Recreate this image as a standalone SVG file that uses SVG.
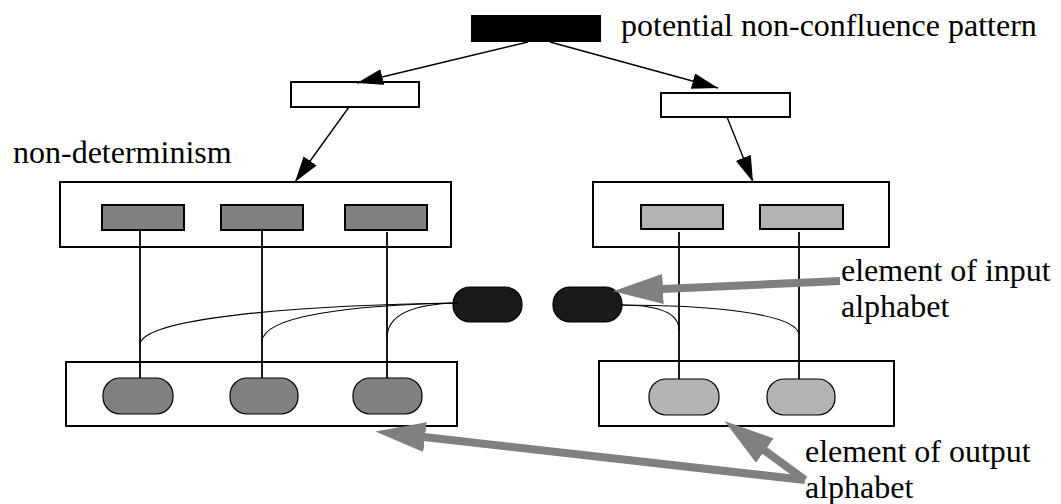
<svg xmlns="http://www.w3.org/2000/svg" width="1061" height="504" viewBox="0 0 1061 504">
  <style>
    .lbl { font-family: "Liberation Serif", "Times New Roman", serif; font-size: 32px; fill: #000; }
    .box { fill: #fff; stroke: #000; stroke-width: 2; }
    .dark { fill: #808080; stroke: #000; stroke-width: 2; }
    .light { fill: #b3b3b3; stroke: #000; stroke-width: 2; }
    .pill-dark { fill: #808080; stroke: #000; stroke-width: 1.2; }
    .pill-light { fill: #b3b3b3; stroke: #000; stroke-width: 1.2; }
    .pill-black { fill: #1a1a1a; stroke: #000; stroke-width: 1.2; }
    .edge { fill: none; stroke: #000; stroke-width: 1.4; }
    .link { fill: none; stroke: #000; stroke-width: 1.8; }
    .curve { fill: none; stroke: #000; stroke-width: 1.1; }
    .pointer { fill: none; stroke: #808080; stroke-width: 8; }
  </style>
  <defs>
    <marker id="head" viewBox="0 0 26 16" refX="26" refY="8" markerWidth="26" markerHeight="16" markerUnits="userSpaceOnUse" orient="auto">
      <path d="M0,0 L26,8 L0,16 z" fill="#000"/>
    </marker>
    <marker id="grayhead" viewBox="0 0 50 30" refX="1" refY="15" markerWidth="50" markerHeight="30" markerUnits="userSpaceOnUse" orient="auto">
      <path d="M0,0 L50,15 L0,30 z" fill="#808080"/>
    </marker>
  </defs>

  <!-- pattern root -->
  <g id="pattern">
    <rect x="471" y="15" width="130" height="27" fill="#000"/>
    <text class="lbl" x="621" y="36">potential non-confluence pattern</text>
  </g>

  <g id="branch-left">
    <rect class="box" x="291" y="82" width="128" height="25"/>
  </g>
  <g id="branch-right">
    <rect class="box" x="661" y="93" width="129" height="24"/>
  </g>

  <g id="nondeterminism-label">
    <text class="lbl" x="13" y="163">non-determinism</text>
  </g>

  <!-- upper state groups -->
  <g id="states-left">
    <rect class="box" x="60" y="182" width="391" height="65"/>
    <rect class="dark" x="102" y="205" width="82" height="25"/>
    <rect class="dark" x="221" y="205" width="82" height="25"/>
    <rect class="dark" x="345" y="205" width="82" height="25"/>
  </g>
  <g id="states-right">
    <rect class="box" x="593" y="182" width="296" height="65"/>
    <rect class="light" x="641" y="205" width="82" height="24"/>
    <rect class="light" x="760" y="205" width="83" height="24"/>
  </g>

  <!-- lower output groups -->
  <g id="outputs-left">
    <rect class="box" x="66" y="362" width="391" height="64"/>
    <rect class="pill-dark" x="103" y="378" width="70" height="36" rx="17" ry="17"/>
    <rect class="pill-dark" x="230" y="378" width="68" height="36" rx="17" ry="17"/>
    <rect class="pill-dark" x="353" y="378" width="69" height="36" rx="17" ry="17"/>
  </g>
  <g id="outputs-right">
    <rect class="box" x="599" y="361" width="295" height="65"/>
    <rect class="pill-light" x="649" y="379" width="70" height="36" rx="17" ry="17"/>
    <rect class="pill-light" x="767" y="379" width="68" height="36" rx="17" ry="17"/>
  </g>

  <!-- input symbols -->
  <g id="input-left">
    <rect class="pill-black" x="453" y="287" width="69" height="35" rx="17" ry="17"/>
  </g>
  <g id="input-right">
    <rect class="pill-black" x="553" y="287" width="69" height="35" rx="17" ry="17"/>
  </g>

  <g id="input-label">
    <text class="lbl" x="841" y="281">element of input</text>
    <text class="lbl" x="841" y="317">alphabet</text>
  </g>
  <g id="output-label">
    <text class="lbl" x="805" y="462">element of output</text>
    <text class="lbl" x="805" y="498">alphabet</text>
  </g>

  <g id="connectors">
    <!-- derivation arrows -->
    <line class="edge" x1="528" y1="42" x2="357" y2="83" marker-end="url(#head)"/>
    <line class="edge" x1="550" y1="42" x2="718" y2="88" marker-end="url(#head)"/>
    <line class="edge" x1="349" y1="107" x2="295" y2="182" marker-end="url(#head)"/>
    <line class="edge" x1="727" y1="117" x2="753" y2="182" marker-end="url(#head)"/>

    <!-- state to output links -->
    <line class="link" x1="140" y1="230" x2="140" y2="378"/>
    <line class="link" x1="262" y1="230" x2="262" y2="378"/>
    <line class="link" x1="387" y1="232" x2="387" y2="378"/>
    <line class="link" x1="679" y1="232" x2="679" y2="379"/>
    <line class="link" x1="799" y1="232" x2="799" y2="379"/>

    <!-- input symbol branches -->
    <path class="curve" d="M458,303 C300,305 140,318 140,345"/>
    <path class="curve" d="M458,303 C350,305 262,316 262,342"/>
    <path class="curve" d="M458,303 C410,304 387,316 387,338"/>
    <path class="curve" d="M621,305 C660,305 679,313 679,330"/>
    <path class="curve" d="M621,305 C700,305 795,312 799,334"/>

    <!-- label pointers -->
    <line class="pointer" x1="840" y1="281" x2="662" y2="289" marker-end="url(#grayhead)"/>
    <line class="pointer" x1="805" y1="480" x2="424" y2="437" marker-end="url(#grayhead)"/>
    <line class="pointer" x1="805" y1="480" x2="764" y2="450" marker-end="url(#grayhead)"/>
  </g>
</svg>
